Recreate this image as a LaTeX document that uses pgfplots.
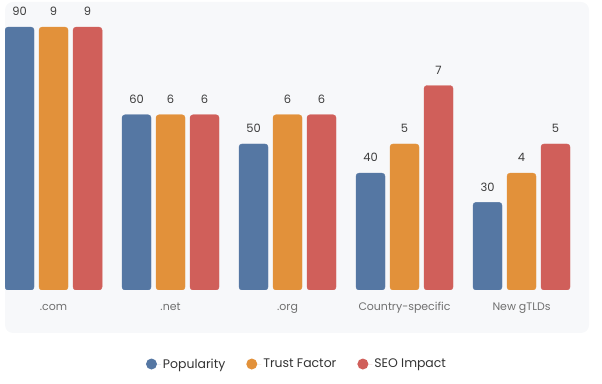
\documentclass[border=0pt]{standalone}
\usepackage{pgfplots}
\pgfplotsset{compat=1.18}
\usepackage{fontspec}
\setmainfont{Poppins}
\definecolor{popblue}{HTML}{5577A3}
\definecolor{trustorange}{HTML}{E2913A}
\definecolor{seored}{HTML}{D05F5A}
\definecolor{panelbg}{HTML}{F7F8FA}
\definecolor{valtext}{HTML}{3C3C3C}
\definecolor{ticktext}{HTML}{707070}
\definecolor{legtext}{HTML}{333333}
\pgfplotsset{
  barbase/.style={
    scale only axis, width=584bp, height=288bp,
    xmin=-0.415, xmax=4.577, ymin=0,
    axis line style={draw=none}, major tick length=0pt,
    ytick=\empty, xtick={0,1,2,3,4},
    /pgf/number format/assume math mode=true,
    ybar, bar width=29bp,
    every node near coord/.append style={font=\fontsize{11.5}{12}\selectfont, text=valtext, anchor=south, inner sep=0pt, yshift=11bp},
    nodes near coords,
  },
  circlelegend/.style={legend image code/.code={\fill[##1] (0bp,0bp) circle (5.5bp); \path (-5.5bp,0bp) -- (9.5bp,0bp);}},
}
\begin{document}
\begin{tikzpicture}
\useasboundingbox (0,0) rectangle (602bp,384bp);
\fill[panelbg, rounded corners=8bp] (5bp,51bp) rectangle (589bp,382bp);
\begin{axis}[barbase, ymax=98.6,
  at={(5bp,94bp)}, anchor=south west,
  xticklabels={.com,.net,.org,Country-specific,New gTLDs},
  xticklabel style={font=\fontsize{11}{12}\selectfont, text=ticktext, text height=8bp, text depth=2.5bp, yshift=-9bp},
]
\addplot[fill=popblue, draw=popblue, rounded corners=3bp, bar shift=-34bp] coordinates {(0,90) (1,60) (2,50) (3,40) (4,30)};
\end{axis}
\begin{axis}[barbase, ymax=9.86,
  at={(5bp,94bp)}, anchor=south west,
  xticklabels={},
  legend columns=3,
  legend style={at={(0.5,-0.257)}, anchor=center, draw=none, fill=none,
    font=\fontsize{12.5}{14}\selectfont, text=legtext,
    /tikz/every even column/.append style={column sep=19bp}},
]
\addlegendimage{circlelegend, fill=popblue, draw=none}
\addlegendentry{Popularity}
\addlegendimage{circlelegend, fill=trustorange, draw=none}
\addlegendentry{Trust Factor}
\addlegendimage{circlelegend, fill=seored, draw=none}
\addlegendentry{SEO Impact}
\addplot[forget plot, fill=trustorange, draw=trustorange, rounded corners=3bp, bar shift=0bp] coordinates {(0,9) (1,6) (2,6) (3,5) (4,4)};
\addplot[forget plot, fill=seored, draw=seored, rounded corners=3bp, bar shift=34bp] coordinates {(0,9) (1,6) (2,6) (3,7) (4,5)};
\end{axis}
\end{tikzpicture}
\end{document}
